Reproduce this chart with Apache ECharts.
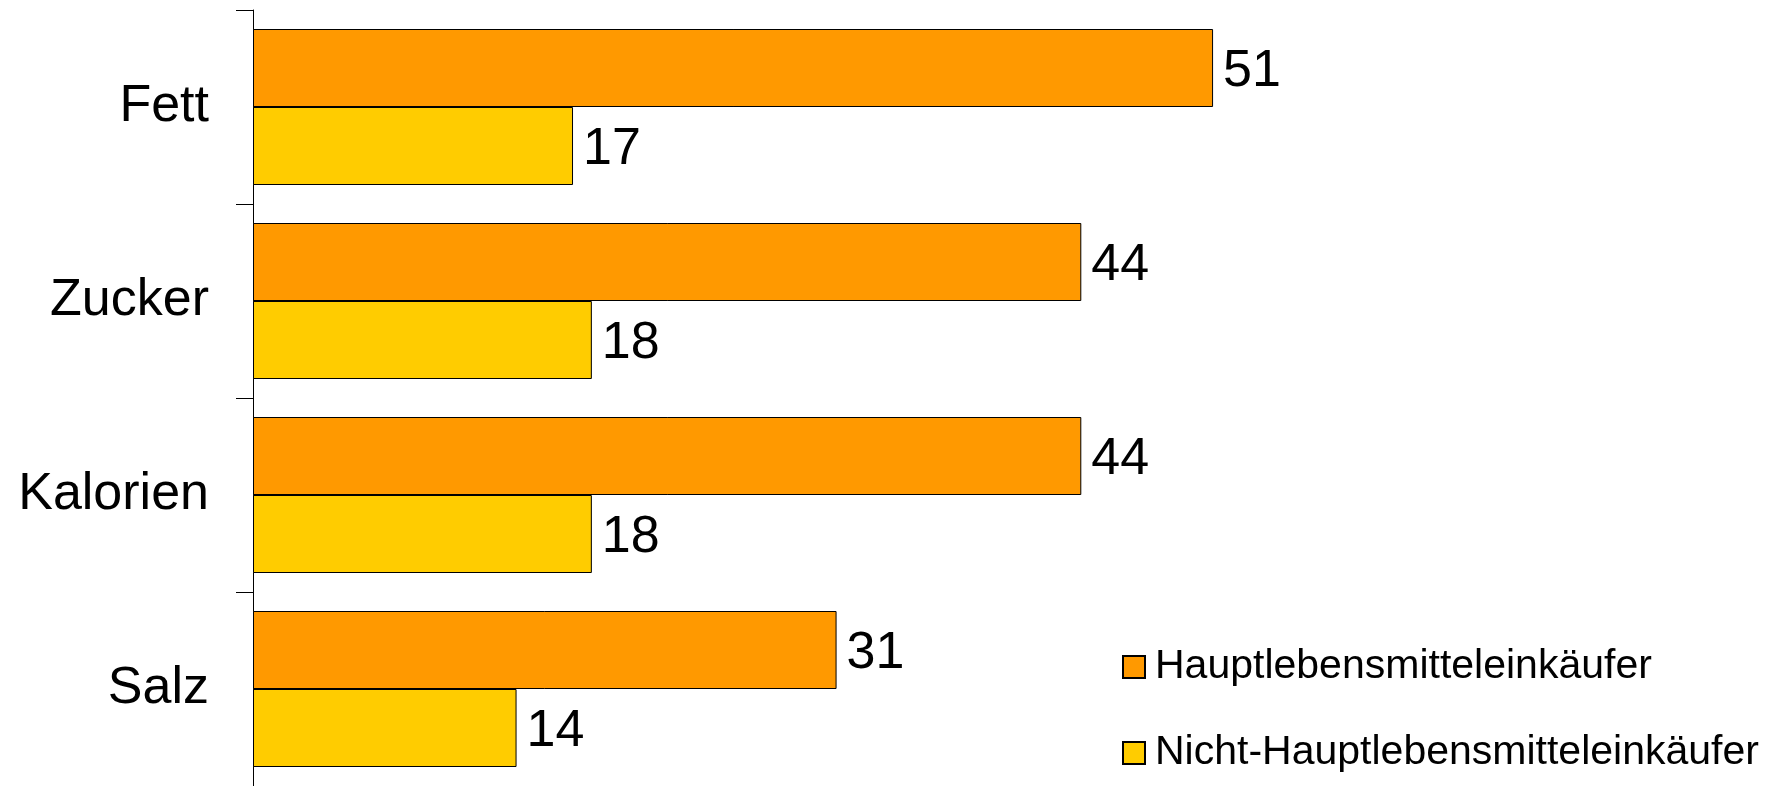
<!DOCTYPE html>
<html>
<head>
<meta charset="utf-8">
<script src="https://cdn.jsdelivr.net/npm/echarts@6/dist/echarts.min.js"></script>
<style>
html,body{margin:0;padding:0;background:#fff;}
#chart{width:1772px;height:786px;}
</style>
</head>
<body>
<div id="chart"></div>
<script>
var categories = ['Fett', 'Zucker', 'Kalorien', 'Salz'];
var seriesNames = ['Hauptlebensmitteleinkäufer', 'Nicht-Hauptlebensmitteleinkäufer'];
var hauptValues = [51, 44, 44, 31];
var nichtHauptValues = [17, 18, 18, 14];

var myChart = echarts.init(document.getElementById('chart'));

//bar label style
var labelStyle = {
    show: true,
    position: 'right',
    distance: 10,
    offset: [0, 4],
    color: '#000',
    fontSize: 52,
    fontFamily: 'Liberation Sans'
};

option = {
    animation: false,
    color: ['#FF9900', '#FFCC00'],
    grid: {
        left: 253,
        top: 10,
        right: 13,
        bottom: -2
    },
    legend: {
        data: seriesNames,
        orient: 'vertical',
        left: 1117,
        top: 640,
        itemWidth: 22,
        itemHeight: 22,
        itemGap: 42,
        icon: 'rect',
        textStyle: {
            color: '#000',
            fontSize: 41,
            lineHeight: 44,
            padding: [0, 0, 0, 5],
            fontFamily: 'Liberation Sans'
        }
    },
    xAxis: {
        type: 'value',
        min: 0,
        max: 80,
        show: false
    },
    yAxis: {
        type: 'category',
        inverse: true,
        data: categories,
        axisLine: {
            show: true,
            lineStyle: {color: '#000', width: 1}
        },
        axisTick: {
            show: true,
            length: 17,
            lineStyle: {color: '#000', width: 1}
        },
        axisLabel: {
            margin: 44,
            padding: [10, 0, 0, 0],
            color: '#000',
            fontSize: 52,
            fontFamily: 'Liberation Sans'
        }
    },
    series: [
        {
            name: seriesNames[0],
            type: 'bar',
            data: hauptValues,
            barWidth: 78,
            barGap: '0%',
            itemStyle: {borderColor: '#000', borderWidth: 1},
            label: labelStyle
        },
        {
            name: seriesNames[1],
            type: 'bar',
            data: nichtHauptValues,
            barWidth: 78,
            barGap: '0%',
            itemStyle: {borderColor: '#000', borderWidth: 1},
            label: labelStyle
        }
    ]
};
myChart.setOption(option);
</script>
</body>
</html>
